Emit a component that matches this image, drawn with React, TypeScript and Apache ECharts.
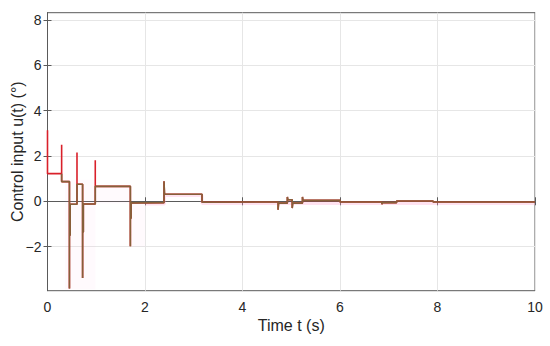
import React, { useEffect, useRef } from "react";
import * as echarts from "echarts";

// Time (s) / control input u(t) (deg) — step signal
const redSignal: [number, number][] = [
  [0, 3.14], [0, 1.22], [0.29, 1.22], [0.29, 2.5], [0.29, 0.87],
  [0.45, 0.87], [0.45, -3.85], [0.45, -1.5], [0.465, -1.5], [0.465, -0.13],
  [0.605, -0.13], [0.605, 2.15], [0.605, 0.75], [0.72, 0.75], [0.72, -3.39],
  [0.72, -1.36], [0.735, -1.36], [0.735, -0.12], [0.98, -0.12], [0.98, 1.81],
  [0.98, 0.66], [1.7, 0.66], [1.7, -1.99], [1.7, -0.75], [1.715, -0.75],
  [1.715, -0.07], [2.39, -0.06], [2.39, 0.88], [2.4, 0.31], [3.17, 0.31],
  [3.17, -0.04], [4.73, -0.03], [4.73, -0.37], [4.74, -0.08], [4.92, -0.08],
  [4.92, 0.19], [4.93, 0.07], [5.02, 0.07], [5.02, -0.3], [5.03, -0.08],
  [5.23, -0.08], [5.23, 0.19], [5.24, 0.04], [6.0, 0.04], [6.0, -0.03],
  [6.86, -0.03], [6.86, -0.13], [6.87, -0.06], [7.16, -0.06], [7.16, 0.01],
  [7.91, 0.01], [7.91, -0.03], [10, -0.03],
];

const brownSignal: [number, number][] = [
  [0.29, 1.22], [0.29, 0.87],
  [0.45, 0.87], [0.45, -3.85], [0.45, -1.5], [0.465, -1.5], [0.465, -0.13],
  [0.605, -0.13], [0.605, 0.75], [0.72, 0.75], [0.72, -3.39],
  [0.72, -1.36], [0.735, -1.36], [0.735, -0.12], [0.98, -0.12],
  [0.98, 0.66], [1.7, 0.66], [1.7, -1.99], [1.7, -0.75], [1.715, -0.75],
  [1.715, -0.07], [2.39, -0.06], [2.39, 0.88], [2.4, 0.31], [3.17, 0.31],
  [3.17, -0.04], [4.73, -0.03], [4.73, -0.37], [4.74, -0.08], [4.92, -0.08],
  [4.92, 0.19], [4.93, 0.07], [5.02, 0.07], [5.02, -0.3], [5.03, -0.08],
  [5.23, -0.08], [5.23, 0.19], [5.24, 0.04], [6.0, 0.04], [6.0, -0.03],
  [6.86, -0.03], [6.86, -0.13], [6.87, -0.06], [7.16, -0.06], [7.16, 0.01],
  [7.91, 0.01], [7.91, -0.03], [10, -0.03],
];

// faint pink shading: [t0, t1, low, high]
const pinkBands: [number, number, number, number][] = [
  [0.36, 0.98, -3.9, 0.95],
  [0.98, 1.7, -0.1, 0.66],
  [1.7, 2.0, -2.0, -0.1],
];

const pinkLine: [number, number][] = [
  [2.0, -0.12], [2.4, -0.12], [2.4, 0.26], [3.17, 0.26], [3.17, -0.1], [10, -0.1],
];

const yTicks = [-2, 0, 2, 4, 6, 8];
const xTicks = [0, 2, 4, 6, 8, 10];

export default function App() {
  const ref = useRef<HTMLDivElement>(null);
  useEffect(() => {
    if (!ref.current) return;
    const chart = echarts.init(ref.current, undefined, { renderer: "svg" });
    const font = "'Liberation Sans', Arial, sans-serif";
    const axisColor = "#5a5a5a";
    const textColor = "#262626";
    const fmt = (v: number) => String(v).replace("-", "\u2212");
    chart.setOption({
      animation: false,
      backgroundColor: "#ffffff",
      grid: {
        left: 47.5,
        right: 15,
        top: 12.7,
        bottom: 55.3,
        containLabel: false,
        outerBoundsMode: "none",
        show: true,
        borderColor: axisColor,
        borderWidth: 1,
        backgroundColor: "transparent",
      },
      xAxis: [
        {
          type: "value",
          min: xTicks[0],
          max: xTicks[xTicks.length - 1],
          interval: 2,
          name: "Time t (s)",
          nameLocation: "middle",
          nameGap: 27,
          nameMoveOverlap: false,
          nameTextStyle: { fontFamily: font, fontSize: 16, color: textColor },
          axisLine: { show: true, lineStyle: { color: axisColor, width: 1 } },
          axisTick: { show: true, inside: true, length: 4, lineStyle: { color: axisColor } },
          axisLabel: { fontFamily: font, fontSize: 14, color: textColor, margin: 9, formatter: fmt },
          splitLine: { show: true, lineStyle: { color: "#e6e6e6", width: 1 } },
        },
        {
          type: "value",
          position: "top",
          min: 0,
          max: 10,
          interval: 2,
          axisLine: { show: true, lineStyle: { color: axisColor, width: 1 } },
          axisTick: { show: true, inside: true, length: 4, lineStyle: { color: axisColor } },
          axisLabel: { show: false },
          splitLine: { show: false },
        },
      ],
      yAxis: [
        {
          type: "value",
          min: -3.95,
          max: 8.33,
          name: "Control input u(t) (\u00b0)",
          nameLocation: "middle",
          nameGap: 22,
          nameMoveOverlap: false,
          nameRotate: 90,
          nameTextStyle: { fontFamily: font, fontSize: 16, color: textColor },
          axisLine: { show: true, lineStyle: { color: axisColor, width: 1 } },
          axisTick: { show: true, inside: true, length: 4, customValues: yTicks, lineStyle: { color: axisColor } },
          axisLabel: { fontFamily: font, fontSize: 14, color: textColor, margin: 6, customValues: yTicks, formatter: fmt },
          splitLine: { show: true, lineStyle: { color: "#e6e6e6", width: 1 } },
        },
        {
          type: "value",
          position: "right",
          min: -3.95,
          max: 8.33,
          axisLine: { show: true, lineStyle: { color: axisColor, width: 1 } },
          axisTick: { show: true, inside: true, length: 4, customValues: yTicks, lineStyle: { color: axisColor } },
          axisLabel: { show: false, customValues: yTicks },
          splitLine: { show: false },
        },
      ],
      series: [
        {
          type: "custom",
          xAxisIndex: 0,
          yAxisIndex: 0,
          silent: true,
          data: pinkBands,
          encode: { x: [0, 1], y: [2, 3] },
          renderItem: (params: any, api: any) => {
            const p0 = api.coord([api.value(0), api.value(3)]);
            const p1 = api.coord([api.value(1), api.value(2)]);
            return {
              type: "rect",
              shape: { x: p0[0], y: p0[1], width: p1[0] - p0[0], height: p1[1] - p0[1] },
              style: { fill: "rgba(255, 170, 215, 0.06)" },
            };
          },
        },
        {
          type: "line",
          xAxisIndex: 0,
          yAxisIndex: 0,
          data: pinkLine,
          showSymbol: false,
          symbol: "none",
          lineStyle: { color: "rgba(255, 160, 205, 0.3)", width: 3 },
        },
        {
          type: "line",
          xAxisIndex: 0,
          yAxisIndex: 0,
          data: redSignal,
          showSymbol: false,
          symbol: "none",
          lineStyle: { color: "#d9202a", width: 1.6 },
        },
        {
          type: "line",
          xAxisIndex: 0,
          yAxisIndex: 0,
          data: brownSignal,
          showSymbol: false,
          symbol: "none",
          lineStyle: { color: "#86603a", width: 1.6 },
        },
      ],
    });
    return () => chart.dispose();
  }, []);
  return <div ref={ref} style={{ width: 550, height: 346, position: "absolute", left: 0, top: 0 }} />;
}
